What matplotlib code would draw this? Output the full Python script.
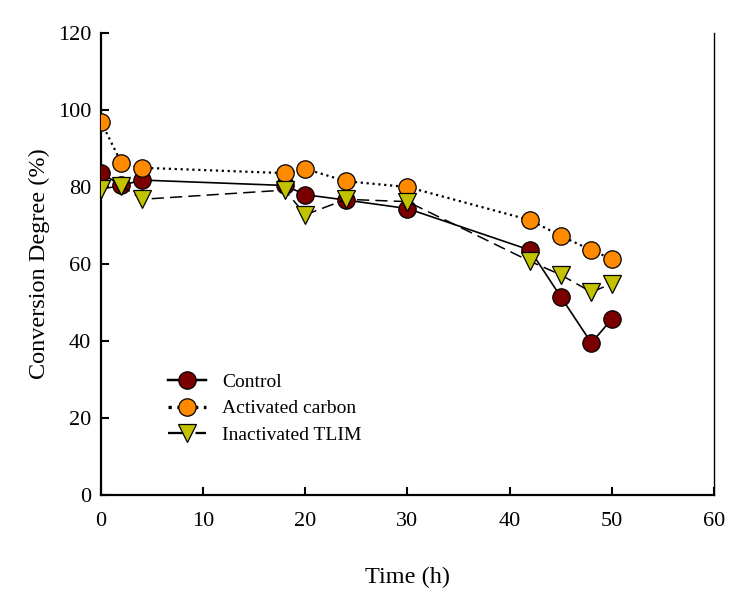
import matplotlib
matplotlib.use("Agg")
import matplotlib.pyplot as plt

time = [0, 2, 4, 18, 20, 24, 30, 42, 45, 48, 50]
control = [83.6, 80.4, 81.8, 80.4, 78.0, 76.6, 74.4, 63.6, 51.5, 39.5, 45.7]
activated = [97.0, 86.2, 85.0, 83.6, 84.7, 81.5, 80.0, 71.4, 67.3, 63.6, 61.3]
inactivated = [79.5, 80.3, 76.8, 79.2, 72.8, 76.8, 76.2, 60.7, 57.2, 52.7, 54.9]

plt.rcParams['font.family'] = ['Liberation Serif', 'DejaVu Serif']

fig = plt.figure(figsize=(7.35, 6.1), dpi=100)
ax = fig.add_axes([0.1374, 0.1885, 0.834, 0.7574])

ms = 12.5
ax.plot(time, control, '-', color='black', lw=1.2, marker='o', ms=ms,
        mfc='#7A0000', mec='black', mew=0.9, label='Control', zorder=3)
ax.plot(time, activated, ':', color='black', lw=1.6, marker='o', ms=ms,
        mfc='#FF8A00', mec='black', mew=0.9, label='Activated carbon', zorder=3)
ax.plot(time, inactivated, '--', color='black', lw=1.1, dashes=(8, 4), marker='v', ms=ms + 1,
        mfc='#C2C200', mec='black', mew=0.9, label='Inactivated TLIM', zorder=3)

ax.set_xlim(0, 60)
ax.set_ylim(0, 120)
ax.set_xticks(range(0, 61, 10))
ax.set_yticks(range(0, 121, 20))
ax.tick_params(direction='in', length=6, width=1.5, labelsize=16)
ax.tick_params(axis='x', pad=12)
ax.tick_params(axis='y', pad=7, right=False)
for s in ['left', 'bottom']:
    ax.spines[s].set_linewidth(1.6)
ax.spines['top'].set_visible(False)
ax.spines['right'].set_linewidth(1.0)

ax.set_xlabel('Time (h)', fontsize=17.5, labelpad=26)
ax.set_ylabel('Conversion Degree (%)', fontsize=17.5, labelpad=6)

leg = ax.legend(loc='lower left', bbox_to_anchor=(0.08, 0.073), frameon=False,
                fontsize=14, handlelength=2.0, handletextpad=0.8, labelspacing=0.45)
for line in leg.get_lines():
    line.set_linewidth(line.get_linewidth() * 1.5)

fig.savefig('out.png', dpi=100)
